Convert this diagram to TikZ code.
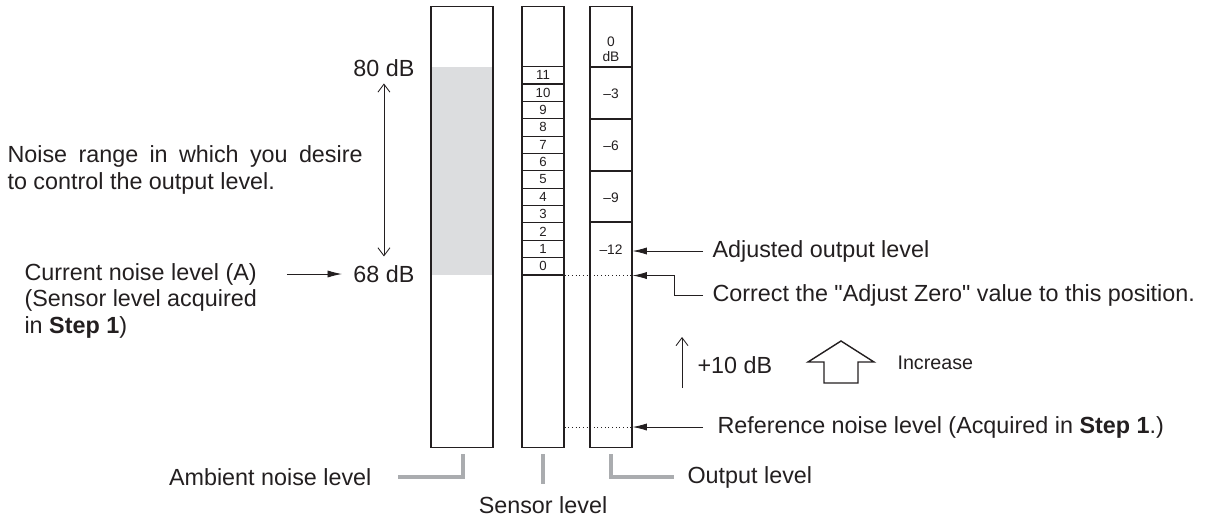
\documentclass[tikz,border=0pt]{standalone}
\usepackage{fontspec}
\setmainfont{Liberation Sans}
\usetikzlibrary{arrows.meta,positioning,calc}
\definecolor{ink}{RGB}{35,31,32}
\definecolor{fillgray}{RGB}{220,221,223}
\definecolor{bargray}{RGB}{170,172,175}

\begin{document}
\begin{tikzpicture}[x=0.025cm,y=-0.025cm,line width=0.8pt,ink,
  every node/.style={inner sep=0pt,font=\fontsize{16.6}{18.6}\selectfont},
  col/.style={draw,minimum width=1.05cm,minimum height=11.025cm,anchor=north},
  cell/.style={draw,minimum width=1.05cm,minimum height=0.434cm,font=\fontsize{9.4}{9.4}\selectfont},
  small/.style={font=\fontsize{9.8}{11}\selectfont,align=center},
  tri/.style={-{Latex[length=3.6mm,width=1.8mm]},line width=0.6pt},
  barb/.style={{Straight Barb[length=2mm,width=3mm]}-{Straight Barb[length=2mm,width=3mm]},line width=0.6pt},
  bracket/.style={bargray,line width=2.8pt}]
  \useasboundingbox (0,0) rectangle (1222,519);

  % the three level columns
  \fill[fillgray] (431,67) rectangle (493,275);
  \node[col,minimum width=1.55cm] (ambcol) at (462,6) {};
  \node[col] (sencol) at (543,6) {};
  \node[col] (outcol) at (611,6) {};
  \foreach \i in {0,...,11}{\node[cell] (s\i) at (543,{266.3-17.36*\i}) {\i};}
  \foreach \y in {67,119,171,222}{\draw (outcol.west |- 0,\y) -- (outcol.east |- 0,\y);}
  \node[small] (o0) at (611,49) {0\\dB};
  \foreach \v/\y in {3/94,6/146,9/198,12/250}{\node[small] (o\v) at (611,\y) {--\v};}

  % left side
  \node[anchor=east] (db80) at (415,68) {80 dB};
  \node[anchor=east] (db68) at (415,274) {68 dB};
  \draw[barb,shorten <=4.5pt,shorten >=6pt] (db80.south) -- (db68.north);
  \node[anchor=west,align=left] (range) at (7,170)
    {\makebox[8.875cm][s]{Noise range in which you desire}\\to control the output level.};
  \node[anchor=west] (cur) at (24,274) {Current noise level (A)};
  \node[anchor=west,align=left] (acq) at (24,314) {(Sensor level acquired\\in \textbf{Step 1})};
  \draw[tri,shorten <=21pt,shorten >=7.8pt] (cur.east) -- (db68.west);

  % right side
  \node[anchor=west] (adj) at (712,251) {Adjusted output level};
  \node[anchor=west] (cor) at (712,295) {Correct the \textquotedbl Adjust Zero\textquotedbl{} value to this position.};
  \node[anchor=west] (ref) at (717,427) {Reference noise level (Acquired in \textbf{Step 1}.)};
  \draw[dotted,line width=0.6pt] (s0.south east) -- (outcol.east |- s0.south);
  \draw[dotted,line width=0.6pt] (ref.west -| sencol.east) -- (ref.west -| outcol.east);
  \draw[tri,shorten <=6.4pt] (adj.west) -- (adj.west -| outcol.east);
  \draw[tri,shorten <=6.4pt] (cor.west) -- ++(-38,0) |- (outcol.east |- s0.south);
  \draw[tri,shorten <=9.9pt] (ref.west) -- (ref.west -| outcol.east);

  \node[anchor=west] (plus) at (697,365) {+10 dB};
  \coordinate (upbot) at (682,388);
  \coordinate (uptop) at (682,337);
  \draw[-{Straight Barb[length=2mm,width=3mm]},line width=0.6pt] (upbot) -- (uptop);
  \draw[line width=1pt] (808,362) -- (841,341) -- (874,362) -- (858,362) -- (858,383)
    -- (824,383) -- (824,362) -- cycle;
  \node[anchor=west,font=\fontsize{14}{16}\selectfont] (inc) at (897,363) {Increase};

  % bottom labels
  \node[anchor=east] (amblab) at (372,477) {Ambient noise level};
  \node[anchor=north] (senlab) at (543,496) {Sensor level};
  \node[anchor=west] (outlab) at (687,477) {Output level};
  \draw[bracket] ($(ambcol.south)+(1,6)$) |- ($(amblab.east)+(26,0)$);
  \draw[bracket] ($(sencol.south)+(0,6)$) -- ($(senlab.north)+(0,-12)$);
  \draw[bracket] ($(outcol.south)+(0,6)$) |- ($(outlab.west)+(-13,0)$);
\end{tikzpicture}
\end{document}
